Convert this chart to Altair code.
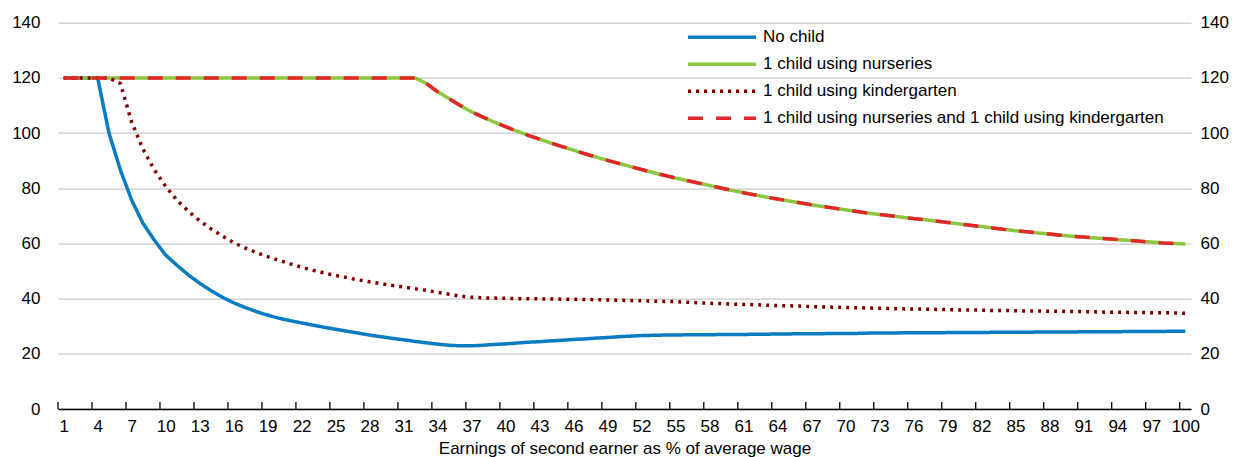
import altair as alt
import pandas as pd

FONT = "Liberation Sans, Arial, sans-serif"
FS = 17

x_values = list(range(1, 101))

no_child = [
    120, 120, 120, 120, 100, 86.7, 75.7, 67.3, 61.2, 55.8,
    52.1, 48.6, 45.6, 42.9, 40.5, 38.5, 36.8, 35.3, 34.0, 32.9,
    32.0, 31.2, 30.4, 29.6, 28.9, 28.2, 27.5, 26.8, 26.2, 25.6,
    25.1, 24.5, 24, 23.5, 23.1, 22.9, 22.9, 23.1, 23.4, 23.6,
    23.9, 24.2, 24.4, 24.7, 24.9, 25.2, 25.4, 25.7, 25.9, 26.2,
    26.4, 26.6, 26.7, 26.8, 26.8, 26.9, 26.9, 26.9, 27, 27,
    27, 27.1, 27.1, 27.2, 27.2, 27.3, 27.3, 27.3, 27.4, 27.4,
    27.4, 27.5, 27.5, 27.5, 27.6, 27.6, 27.6, 27.6, 27.7, 27.7,
    27.7, 27.7, 27.8, 27.8, 27.8, 27.8, 27.9, 27.9, 27.9, 27.9,
    28, 28, 28, 28, 28.1, 28.1, 28.1, 28.1, 28.2, 28.2,
]

nurseries = [
    120, 120, 120, 120, 120, 120, 120, 120, 120, 120,
    120, 120, 120, 120, 120, 120, 120, 120, 120, 120,
    120, 120, 120, 120, 120, 120, 120, 120, 120, 120,
    120, 120, 118, 115, 112.5, 110, 107.7, 105.8, 104, 102.3,
    100.7, 99.2, 97.8, 96.4, 95.1, 93.8, 92.5, 91.3, 90.1, 89,
    87.9, 86.8, 85.7, 84.7, 83.7, 82.8, 81.9, 81, 80.1, 79.2,
    78.4, 77.6, 76.8, 76.1, 75.4, 74.7, 74, 73.4, 72.8, 72.2,
    71.6, 71, 70.5, 70, 69.5, 69, 68.6, 68.1, 67.6, 67.1,
    66.6, 66.1, 65.6, 65.1, 64.6, 64.2, 63.8, 63.4, 63, 62.6,
    62.3, 62, 61.7, 61.4, 61.1, 60.8, 60.5, 60.2, 60, 59.8,
]

kindergarten = [
    120, 120, 120, 120, 120, 118, 104, 94.2, 86.7, 80.7,
    75.7, 71.7, 68.2, 65.3, 62.7, 60.3, 58.4, 56.7, 55.2, 53.9,
    52.6, 51.4, 50.3, 49.3, 48.4, 47.6, 46.8, 46.1, 45.4, 44.8,
    44.2, 43.6, 43.0, 42.3, 41.6, 40.9, 40.5, 40.3, 40.2, 40.1,
    40.0, 40.0, 39.9, 39.9, 39.8, 39.8, 39.7, 39.6, 39.5, 39.4,
    39.3, 39.2, 39.1, 39.0, 38.9, 38.7, 38.5, 38.3, 38.2, 38.0,
    37.9, 37.8, 37.6, 37.5, 37.4, 37.3, 37.1, 37.0, 36.9, 36.8,
    36.7, 36.6, 36.5, 36.4, 36.3, 36.2, 36.2, 36.1, 36.0, 35.9,
    35.9, 35.8, 35.7, 35.7, 35.6, 35.5, 35.5, 35.4, 35.4, 35.3,
    35.3, 35.2, 35.1, 35.1, 35.0, 35.0, 34.9, 34.9, 34.8, 34.7,
]

nurseries_and_kindergarten = [
    120, 120, 120, 120, 120, 120, 120, 120, 120, 120,
    120, 120, 120, 120, 120, 120, 120, 120, 120, 120,
    120, 120, 120, 120, 120, 120, 120, 120, 120, 120,
    120, 120, 118, 115, 112.5, 110, 107.7, 105.8, 104, 102.3,
    100.7, 99.2, 97.8, 96.4, 95.1, 93.8, 92.5, 91.3, 90.1, 89,
    87.9, 86.8, 85.7, 84.7, 83.7, 82.8, 81.9, 81, 80.1, 79.2,
    78.4, 77.6, 76.8, 76.1, 75.4, 74.7, 74, 73.4, 72.8, 72.2,
    71.6, 71, 70.5, 70, 69.5, 69, 68.6, 68.1, 67.6, 67.1,
    66.6, 66.1, 65.6, 65.1, 64.6, 64.2, 63.8, 63.4, 63, 62.6,
    62.3, 62, 61.7, 61.4, 61.1, 60.8, 60.5, 60.2, 60, 59.8,
]

series_names = [
    "No child",
    "1 child using nurseries",
    "1 child using kindergarten",
    "1 child using nurseries and 1 child using kindergarten",
]
series_colors = ["#0a7cc1", "#8cc63f", "#7f0000", "#e2262b"]
series_dashes = [[1, 0], [1, 0], [3, 5], [15, 13]]

x_tick_labels = list(range(1, 101, 3))
x_tick_marks = [
    0.5, 3.5, 6.5, 9.5, 12.5, 15.5, 18.5, 21.5, 24.5, 27.5, 30.5, 33.5,
    36.5, 39.5, 42.5, 45.5, 48.5, 51.5, 54.5, 57.5, 60.5, 63.5, 66.5,
    69.5, 72.5, 75.5, 78.5, 81.5, 84.5, 87.5, 90.5, 93.5, 96.5, 99.5,
]
y_ticks = [0, 20, 40, 60, 80, 100, 120, 140]

rows = []
for name, vals in zip(series_names, [no_child, nurseries, kindergarten, nurseries_and_kindergarten]):
    for x, v in zip(x_values, vals):
        rows.append({"x": x, "value": v, "series": name})
df = pd.DataFrame(rows)

ticks_df = pd.DataFrame({"x": x_tick_marks, "base": [0] * len(x_tick_marks)})

W = 1133
H = 386.3

xscale = alt.Scale(domain=[0.5, 100.5], nice=False, zero=False)
yscale = alt.Scale(domain=[0, 140], nice=False, zero=True)

x_axis = alt.Axis(
    values=x_tick_labels,
    title="Earnings of second earner as % of average wage",
    titleFont=FONT,
    titleFontSize=FS,
    titleFontWeight="normal",
    titleColor="black",
    titlePadding=6,
    ticks=False,
    grid=False,
    domainColor="black",
    domainWidth=1.5,
    labelPadding=9,
    labelFlush=False,
    labelOverlap=False,
)

legend = alt.Legend(
    title=None,
    orient="none",
    legendX=628,
    legendY=1,
    symbolType="stroke",
    symbolSize=4624,
    symbolStrokeWidth=3.5,
    labelFont=FONT,
    labelFontSize=FS,
    labelColor="black",
    labelOffset=5,
    clipHeight=27,
    rowPadding=0,
    padding=0,
    labelLimit=600,
)

lines = alt.Chart(df).mark_line(strokeWidth=3.5, strokeCap="butt").encode(
    x=alt.X("x:Q", scale=xscale, axis=x_axis),
    y=alt.Y(
        "value:Q",
        scale=yscale,
        axis=alt.Axis(
            orient="left",
            values=y_ticks,
            title=None,
            ticks=False,
            domain=False,
            grid=True,
            gridColor="#c8c8c8",
            gridWidth=1.3,
            labelPadding=18,
        ),
    ),
    color=alt.Color("series:N", scale=alt.Scale(domain=series_names, range=series_colors), legend=legend),
    strokeDash=alt.StrokeDash("series:N", scale=alt.Scale(domain=series_names, range=series_dashes), legend=legend),
)

tick_rules = alt.Chart(ticks_df).mark_rule(color="black", strokeWidth=1.3).encode(
    x=alt.X("x:Q", scale=xscale, axis=x_axis),
    y=alt.Y(
        "base:Q",
        scale=yscale,
        axis=alt.Axis(
            orient="right",
            values=y_ticks,
            title=None,
            ticks=False,
            domain=False,
            grid=False,
            labelPadding=9,
        ),
    ),
    y2=alt.value(H - 7),
)

chart = (
    alt.layer(lines, tick_rules)
    .resolve_scale(y="independent")
    .properties(
        width=W,
        height=H,
        padding={"left": 50, "top": 14.7, "right": 40, "bottom": 50},
        autosize=alt.AutoSizeParams(type="none"),
    )
    .configure_view(stroke=None)
    .configure_axis(
        labelFont=FONT,
        labelFontSize=FS,
        labelColor="black",
    )
)

chart.save("out.html", embed_options={"renderer": "svg", "actions": False})
